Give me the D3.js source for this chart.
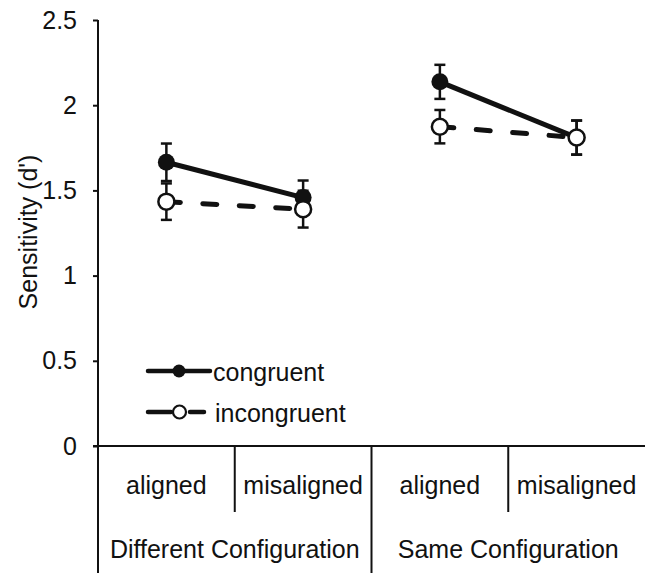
<!DOCTYPE html>
<html>
<head>
<meta charset="utf-8">
<script src="https://cdn.jsdelivr.net/npm/d3@7.9.0/dist/d3.min.js"></script>
<style>
  body { margin: 0; background: #fff; }
  svg { display: block; font-family: "Liberation Sans", Arial, sans-serif; }
</style>
</head>
<body>
<svg width="645" height="573"></svg>
<script>
// data
const cells = ["DA", "DM", "SA", "SM"];
const conditions = ["aligned", "misaligned", "aligned", "misaligned"];
const groups = ["Different Configuration", "Same Configuration"];
const congruent = [1.665, 1.458, 2.137, 1.81];
const congruentErr = [0.11, 0.10, 0.10, 0.10];
const incongruent = [1.434, 1.39, 1.874, 1.81];
const incongruentErr = [0.107, 0.108, 0.098, 0.10];
const yTicks = [0, 0.5, 1, 1.5, 2, 2.5];
const seriesNames = ["congruent", "incongruent"];

const svg = d3.select("svg");
const axisY0 = 446, axisX0 = 98;

let x = d3.scaleBand().domain(cells).range([axisX0, 645]).padding(0);
let y = d3.scaleLinear().domain([0, 2.5]).range([axisY0, 20]);

// y axis
let yAxis = d3.axisLeft(y).tickValues(yTicks).tickSize(5).tickPadding(16)
  .tickFormat(d => d3.format("")(d));
let gy = svg.append("g").attr("transform", `translate(${axisX0},0)`).call(yAxis);
gy.select(".domain").remove();
gy.selectAll(".tick line").attr("stroke", "#111").attr("stroke-width", 2);
gy.selectAll(".tick text").attr("font-size", 25).attr("fill", "#111")
  .attr("font-family", "Liberation Sans, Arial, sans-serif");

// axis lines and category separators
svg.append("line").attr("x1", axisX0).attr("x2", axisX0)
  .attr("y1", y(2.5)).attr("y2", 573).attr("stroke", "#111").attr("stroke-width", 2);
svg.append("line").attr("x1", axisX0 - 5).attr("x2", 645)
  .attr("y1", axisY0).attr("y2", axisY0).attr("stroke", "#111").attr("stroke-width", 2);
cells.forEach((c, i) => {
  if (i === 0) return;
  svg.append("line").attr("x1", x(c)).attr("x2", x(c))
    .attr("y1", axisY0).attr("y2", i % 2 === 0 ? 573 : 512)
    .attr("stroke", "#111").attr("stroke-width", 2);
});

// category labels
svg.selectAll(".cond").data(cells).join("text")
  .attr("x", d => x(d) + x.bandwidth() / 2).attr("y", 494)
  .attr("text-anchor", "middle").attr("font-size", 25).attr("fill", "#111")
  .text((d, i) => conditions[i]);
svg.selectAll(".grp").data(groups).join("text")
  .attr("x", (d, i) => x(cells[i * 2]) + x.bandwidth())
  .attr("y", 558).attr("text-anchor", "middle").attr("font-size", 25).attr("fill", "#111")
  .text(d => d);

// y label
svg.append("text").attr("transform", "translate(37,232) rotate(-90)")
  .attr("text-anchor", "middle").attr("font-size", 25).attr("fill", "#111")
  .text("Sensitivity (d')");

const cx = i => x(cells[i]) + x.bandwidth() / 2;
const line = d3.line().x(d => cx(d.i)).y(d => y(d.v));

function series(vals) { return vals.map((v, i) => ({ i, v })); }

// connecting lines within each configuration
[0, 1].forEach(g => {
  const c = series(congruent).slice(g * 2, g * 2 + 2);
  const n = series(incongruent).slice(g * 2, g * 2 + 2);
  svg.append("path").attr("d", line(c)).attr("fill", "none")
    .attr("stroke", "#111").attr("stroke-width", 5);
  svg.append("path").attr("d", line(n)).attr("fill", "none")
    .attr("stroke", "#111").attr("stroke-width", 5)
    .attr("stroke-linecap", "round").attr("stroke-dasharray", "14,22.5");
});

// error bars
function errBars(vals, errs) {
  vals.forEach((v, i) => {
    const g = svg.append("g").attr("stroke", "#111").attr("stroke-width", 2.5);
    g.append("line").attr("x1", cx(i)).attr("x2", cx(i))
      .attr("y1", y(v - errs[i])).attr("y2", y(v + errs[i]));
    [v - errs[i], v + errs[i]].forEach(e => {
      g.append("line").attr("x1", cx(i) - 5.5).attr("x2", cx(i) + 5.5)
        .attr("y1", y(e)).attr("y2", y(e));
    });
  });
}
errBars(congruent, congruentErr);
errBars(incongruent, incongruentErr);

// markers
svg.selectAll(".cm").data(congruent).join("circle")
  .attr("cx", (d, i) => cx(i)).attr("cy", d => y(d)).attr("r", 8.5)
  .attr("fill", "#111");
svg.selectAll(".im").data(incongruent).join("circle")
  .attr("cx", (d, i) => cx(i)).attr("cy", d => y(d)).attr("r", 8)
  .attr("fill", "#fff").attr("stroke", "#111").attr("stroke-width", 2.5);

// legend
const leg = svg.append("g");
leg.append("line").attr("x1", 148).attr("x2", 210).attr("y1", 371).attr("y2", 371)
  .attr("stroke", "#111").attr("stroke-width", 4.5).attr("stroke-linecap", "round");
leg.append("circle").attr("cx", 179).attr("cy", 371).attr("r", 6.5).attr("fill", "#111");
leg.append("line").attr("x1", 148).attr("x2", 204).attr("y1", 412).attr("y2", 412)
  .attr("stroke", "#111").attr("stroke-width", 4.5).attr("stroke-linecap", "round")
  .attr("stroke-dasharray", "23,19,16");
leg.append("circle").attr("cx", 179.5).attr("cy", 412).attr("r", 6.5)
  .attr("fill", "#fff").attr("stroke", "#111").attr("stroke-width", 2.2);
leg.selectAll("text").data(seriesNames).join("text")
  .attr("x", (d, i) => i === 0 ? 213 : 215).attr("y", (d, i) => i === 0 ? 381 : 422)
  .attr("font-size", 25).attr("fill", "#111").text(d => d);
</script>
</body>
</html>
